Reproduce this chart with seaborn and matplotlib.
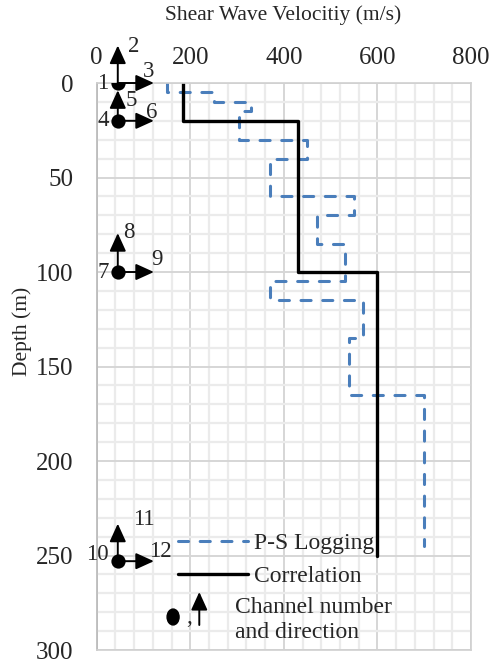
import matplotlib
matplotlib.use("Agg")
import matplotlib.pyplot as plt
import numpy as np
import pandas as pd
import seaborn as sns
from matplotlib.ticker import MultipleLocator
from matplotlib.patches import Ellipse

# ---------------- data ----------------
ps_top = [0, 5, 10, 15, 30, 40, 60, 70, 85, 105, 115, 135, 165]
ps_bottom = [5, 10, 15, 30, 40, 60, 70, 85, 105, 115, 135, 165, 245]
ps_vs = [150, 250, 330, 305, 450, 370, 550, 470, 530, 370, 570, 540, 700]

corr_top = [0, 20, 100]
corr_bottom = [20, 100, 250]
corr_vs = [185, 430, 600]

chan_x = [45, 45, 45, 45]
chan_depth = [0, 20, 100, 253]
chan_labels = [("1", "2", "3"), ("4", "5", "6"), ("7", "8", "9"), ("10", "11", "12")]

x_ticks = [0, 200, 400, 600, 800]
y_ticks = [0, 50, 100, 150, 200, 250, 300]


def step_frame(tops, bottoms, vals):
    rows = []
    for t, b, v in zip(tops, bottoms, vals):
        rows.append((v, t))
        rows.append((v, b))
    return pd.DataFrame(rows, columns=["vs", "depth"])


ps_df = step_frame(ps_top, ps_bottom, ps_vs)
corr_df = step_frame(corr_top, corr_bottom, corr_vs)

# ---------------- style ----------------
sns.set_theme(style="white")
plt.rcParams["font.family"] = ["Liberation Serif", "DejaVu Serif"]

PX = 0.72  # px -> pt at dpi 100
BLUE = "#4A7EBB"

fig = plt.figure(figsize=(4.92, 6.63), dpi=100)
ax = fig.add_axes([0.1966, 0.0196, 0.7608, 0.8552])

sns.lineplot(data=ps_df, x="vs", y="depth", sort=False, estimator=None,
             color=BLUE, lw=2.2, ax=ax, label="P-S Logging")
ps_line = ax.lines[-1]
ps_line.set_dashes((3.3, 3.8))
ps_line.set_dash_capstyle("round")

sns.lineplot(data=corr_df, x="vs", y="depth", sort=False, estimator=None,
             color="black", lw=2.4, ax=ax, label="Correlation")
corr_line = ax.lines[-1]

# channel markers
sns.scatterplot(x=chan_x, y=chan_depth, s=105, color="black", linewidth=0,
                zorder=6, ax=ax, legend=False)

up_len = [27, 22, 28, 27]          # pt, arrow length up
right_len = 26                     # pt, arrow length right
lab_b_dx = [10, 8, 5, 15]          # px
lab_b_dy = [37, 20, 40, 42]        # px
lab_c_dx = [25, 28, 33, 31]        # px
lab_c_dy = [12, 8, 13, 10]         # px
lab_a_dy = [0, 0, 0, 7]            # px
head = "<|-,head_length=1.1,head_width=0.5"
for i, (cx, cd, (la, lb, lc)) in enumerate(zip(chan_x, chan_depth, chan_labels)):
    ax.annotate("", xy=(cx, cd), xytext=(0, up_len[i]), textcoords="offset points",
                arrowprops=dict(arrowstyle=head, color="black", lw=1.4,
                                shrinkA=0, shrinkB=0, mutation_scale=10),
                annotation_clip=False, zorder=5)
    ax.annotate("", xy=(cx, cd), xytext=(right_len, 0), textcoords="offset points",
                arrowprops=dict(arrowstyle=head, color="black", lw=1.4,
                                shrinkA=0, shrinkB=0, mutation_scale=10),
                annotation_clip=False, zorder=5)
    ax.annotate(la, xy=(cx, cd), xytext=(-9 * PX, lab_a_dy[i] * PX), textcoords="offset points",
                ha="right", va="center", fontsize=16.5, annotation_clip=False)
    ax.annotate(lb, xy=(cx, cd), xytext=(lab_b_dx[i] * PX, lab_b_dy[i] * PX),
                textcoords="offset points",
                ha="left", va="center", fontsize=16.5, annotation_clip=False)
    ax.annotate(lc, xy=(cx, cd), xytext=(lab_c_dx[i] * PX, lab_c_dy[i] * PX),
                textcoords="offset points",
                ha="left", va="center", fontsize=16.5, annotation_clip=False)

# ---------------- axes ----------------
ax.set_xlim(0, 800)
ax.set_ylim(300, 0)
ax.set_xticks(x_ticks)
ax.set_yticks(y_ticks)
ax.xaxis.set_minor_locator(MultipleLocator(40))
ax.yaxis.set_minor_locator(MultipleLocator(10))
ax.xaxis.tick_top()
ax.xaxis.set_label_position("top")
ax.tick_params(which="both", length=0)
ax.tick_params(axis="x", labelsize=18, pad=10)
ax.tick_params(axis="y", labelsize=18, pad=17)
ax.set_axisbelow(True)
ax.grid(which="minor", color="#ebebeb", lw=1.6)
ax.grid(which="major", color="#d6d6d6", lw=1.4)
for s in ax.spines.values():
    s.set_color("#d0d0d0")
    s.set_linewidth(1.2)
ax.spines["left"].set_color("#b8b8b8")

ax.set_xlabel("Shear Wave Velocitiy (m/s)", fontsize=15.5)
ax.set_ylabel("Depth (m)", fontsize=15.5)
ax.xaxis.label.set(va="center", ha="center")
ax.yaxis.label.set(va="center", ha="center")
ax.xaxis.set_label_coords(0.499, 1.12)
ax.yaxis.set_label_coords(-0.1996, 0.5626)

# ---------------- legend ----------------
leg = ax.legend(handles=[ps_line, corr_line], labels=["P-S Logging", "Correlation"],
                loc="upper left", bbox_to_anchor=(0.218, 0.207), frameon=False,
                fontsize=17, handlelength=2.95, handletextpad=0.25,
                labelspacing=0.5, borderpad=0, borderaxespad=0)

# third legend entry: channel symbol
ax.add_patch(Ellipse((0.204, 0.0582), 0.032, 0.028, transform=ax.transAxes,
                     color="black", clip_on=False))
ax.text(0.2457, 0.058, ",", transform=ax.transAxes, fontsize=17,
        ha="center", va="center")
ax.annotate("", xy=(0.274, 0.0441), xycoords="axes fraction",
            xytext=(0.274, 0.1023), textcoords="axes fraction",
            arrowprops=dict(arrowstyle=head, color="black", lw=1.4,
                            shrinkA=0, shrinkB=0, mutation_scale=10))
ax.text(0.370, 0.0529, "Channel number\nand direction", transform=ax.transAxes,
        fontsize=17, ha="left", va="center", linespacing=1.27)

fig.savefig("out.png", dpi=100)
